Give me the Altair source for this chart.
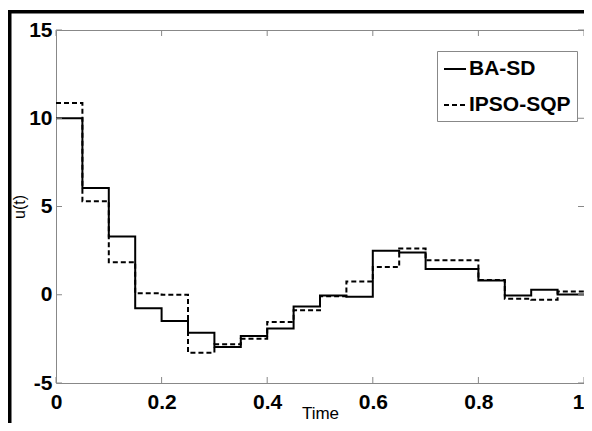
import altair as alt
import pandas as pd

# ---- data ----
time = [0.0, 0.05, 0.1, 0.15, 0.2, 0.25, 0.3, 0.35, 0.4, 0.45,
        0.5, 0.55, 0.6, 0.65, 0.7, 0.75, 0.8, 0.85, 0.9, 0.95, 1.0]
ba_sd = [10.0, 6.05, 3.3, -0.77, -1.49, -2.15, -2.96, -2.34, -1.91, -0.66,
         -0.04, -0.11, 2.5, 2.4, 1.46, 1.46, 0.81, -0.04, 0.28, 0.02]
ipso_sqp = [10.86, 5.3, 1.84, 0.08, 0.0, -3.28, -2.81, -2.49, -1.54, -0.88,
            -0.09, 0.75, 1.57, 2.62, 1.95, 1.95, 0.84, -0.22, -0.28, 0.19]
series_names = ["BA-SD", "IPSO-SQP"]
x_ticks = [0, 0.2, 0.4, 0.6, 0.8, 1]
y_ticks = [-5, 0, 5, 10, 15]

rows = []
for name, vals in zip(series_names, [ba_sd, ipso_sqp]):
    held = vals + [vals[-1]]
    for t, v in zip(time, held):
        rows.append({"t": t, "u": v, "series": name})
df = pd.DataFrame(rows)

W, H = 528, 353
PL, PT, PR, PB = 48, 22, 0, 40
GRAY = "#888888"
FONT = "Liberation Sans"

xscale = alt.Scale(domain=[0, 1], nice=False, zero=False)
yscale = alt.Scale(domain=[-5, 15], nice=False, zero=False)

lines = alt.Chart(df).mark_line(interpolate="step-after", color="black", strokeWidth=2).encode(
    x=alt.X("t:Q", scale=xscale, axis=alt.Axis(
        values=x_ticks, format="~g", title="Time", ticks=False, domain=False, grid=False,
        labelFont=FONT, labelFontWeight="bold", labelFontSize=21, labelColor="black",
        labelPadding=8, labelFlush=False, labelOverlap=False,
        labelAlign={"condition": {"test": "datum.value >= 1", "value": "right"}, "value": "center"},
        titleFont=FONT, titleFontWeight="normal", titleFontSize=17, titleColor="black",
        titleY=22, titleBaseline="top")),
    y=alt.Y("u:Q", scale=yscale, axis=alt.Axis(
        values=y_ticks, labelExpr="'' + datum.value", title="u(t)", ticks=False,
        domain=False, grid=False,
        labelFont=FONT, labelFontWeight="bold", labelFontSize=21, labelColor="black",
        labelPadding=4, labelOverlap=False,
        titleFont=FONT, titleFontWeight="normal", titleFontSize=16,
        titleColor="black", titleX=-29, titleY=H / 2)),
    strokeDash=alt.StrokeDash("series:N", scale=alt.Scale(domain=series_names, range=[[1, 0], [5, 3]]),
        legend=alt.Legend(title=None, orient="none", legendX=381, legendY=21,
                          symbolType="stroke", symbolStrokeWidth=2, symbolSize=484,
                          symbolStrokeColor="black",
                          labelFont=FONT, labelFontWeight="bold", labelFontSize=21,
                          labelColor="black", labelOffset=2,
                          strokeColor=GRAY, fillColor="white", padding=6, rowPadding=14)),
)

one = pd.DataFrame({"a": [0]})
frame_top = alt.Chart(one).mark_rule(color="black", strokeWidth=3.5).encode(
    x=alt.value(-PL), x2=alt.value(W + PR), y=alt.value(-18.3))
frame_left = alt.Chart(one).mark_rule(color="black", strokeWidth=4).encode(
    x=alt.value(-46.5), y=alt.value(-20), y2=alt.value(H + PB))

tdx = pd.DataFrame({"t": x_ticks})
tdy = pd.DataFrame({"u": y_ticks})
tick_b = alt.Chart(tdx).mark_rule(color=GRAY).encode(
    x=alt.X("t:Q", scale=xscale), y=alt.value(H), y2=alt.value(H - 6))
tick_t = alt.Chart(tdx).mark_rule(color=GRAY).encode(
    x=alt.X("t:Q", scale=xscale), y=alt.value(0), y2=alt.value(6))
tick_l = alt.Chart(tdy).mark_rule(color=GRAY).encode(
    y=alt.Y("u:Q", scale=yscale), x=alt.value(0), x2=alt.value(6))
tick_r = alt.Chart(tdy).mark_rule(color=GRAY).encode(
    y=alt.Y("u:Q", scale=yscale), x=alt.value(W - 6), x2=alt.value(W))

chart = alt.layer(lines, frame_top, frame_left, tick_b, tick_t, tick_l, tick_r).properties(
    width=W, height=H,
    padding={"left": PL, "top": PT, "right": PR, "bottom": PB},
    autosize=alt.AutoSizeParams(type="none"),
).configure_view(stroke=GRAY, strokeWidth=1)

chart.save("out.html", embed_options={"renderer": "svg", "actions": False})
